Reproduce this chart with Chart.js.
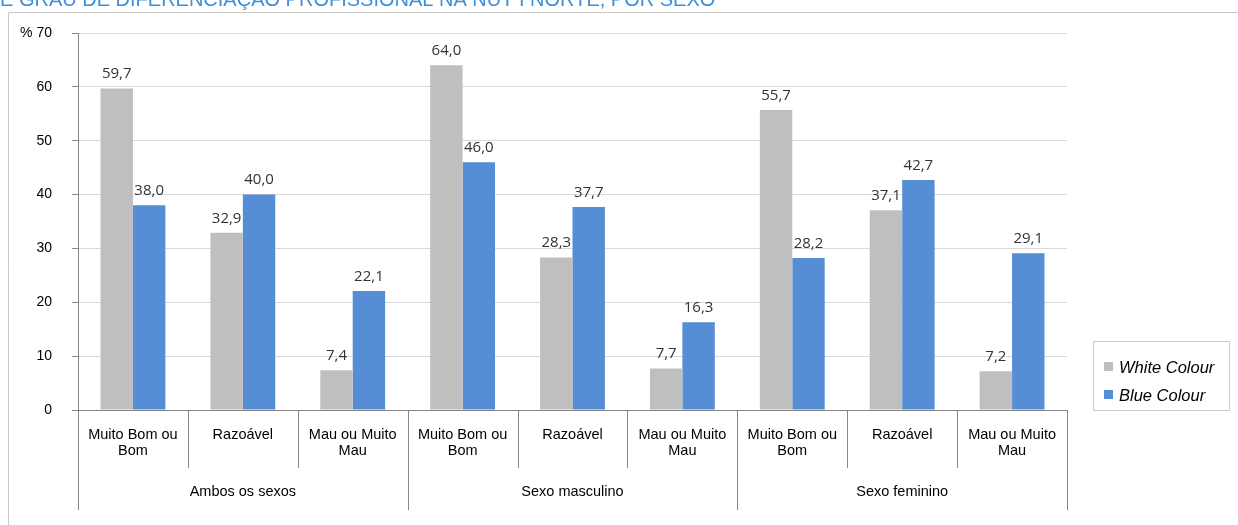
<!DOCTYPE html>
<html>
<head>
<meta charset="utf-8">
<script src="https://cdn.jsdelivr.net/npm/chart.js@4"></script>
<style>
  html, body { margin: 0; padding: 0; background: #fff; }
  #wrap { position: relative; width: 1238px; height: 525px; overflow: hidden; }
</style>
</head>
<body>
<div id="wrap"><canvas id="myChart" width="1238" height="525"></canvas></div>
<script>
var categories = ["Muito Bom ou Bom", "Razoável", "Mau ou Muito Mau",
                  "Muito Bom ou Bom", "Razoável", "Mau ou Muito Mau",
                  "Muito Bom ou Bom", "Razoável", "Mau ou Muito Mau"];
var catLines = [["Muito Bom ou", "Bom"], ["Razoável"], ["Mau ou Muito", "Mau"]];
var groups = ["Ambos os sexos", "Sexo masculino", "Sexo feminino"];
var whiteValues = [59.7, 32.9, 7.4, 64.0, 28.3, 7.7, 55.7, 37.1, 7.2];
var blueValues = [38.0, 40.0, 22.1, 46.0, 37.7, 16.3, 28.2, 42.7, 29.1];
var seriesNames = ["White Colour", "Blue Colour"];
var seriesColors = ["#bfbfbf", "#558ed5"];
var titleText = "E GRAU DE DIFERENCIAÇÃO PROFISSIONAL NA NUT I NORTE, POR SEXO";

var axisColor = "#868686";

// frame, title, labels, group axis, legend
var extras = {
  id: "extras",
  afterDatasetsDraw: function(chart) {
    var ctx = chart.ctx;
    ctx.save();
    ctx.font = "15px 'Open Sans'";
    ctx.fillStyle = "#333";
    ctx.textAlign = "center";
    ctx.textBaseline = "bottom";
    chart.data.datasets.forEach(function(ds, i) {
      var meta = chart.getDatasetMeta(i);
      meta.data.forEach(function(bar, j) {
        ctx.fillText(ds.data[j].toFixed(1).replace(".", ","), bar.x, bar.y - 7);
      });
    });
    ctx.restore();
  },
  afterDraw: function(chart) {
    var ctx = chart.ctx;
    var area = chart.chartArea;
    var x = chart.scales.x;
    ctx.save();

    // outer frame
    ctx.strokeStyle = "#c8c8c8";
    ctx.lineWidth = 1;
    ctx.beginPath();
    ctx.moveTo(8.5, 525);
    ctx.lineTo(8.5, 12.5);
    ctx.lineTo(1238, 12.5);
    ctx.stroke();

    // title (clipped at top)
    ctx.fillStyle = "#3f8fd8";
    ctx.font = "20px 'Liberation Sans'";
    ctx.textAlign = "left";
    ctx.textBaseline = "alphabetic";
    ctx.fillText(titleText, 0, 6);

    // % unit
    ctx.fillStyle = "#000";
    ctx.font = "14px 'Liberation Sans'";
    ctx.textBaseline = "middle";
    ctx.fillText("%", 20, area.top);

    // category boundaries and labels
    var n = categories.length;
    var step = (area.right - area.left) / n;
    ctx.strokeStyle = axisColor;
    ctx.beginPath();
    for (var k = 0; k <= n; k++) {
      var bx = Math.round(area.left + k * step) + 0.5;
      ctx.moveTo(bx, area.bottom);
      ctx.lineTo(bx, k % 3 === 0 ? 510 : 468);
    }
    ctx.stroke();

    ctx.font = "14.5px 'Liberation Sans'";
    ctx.textAlign = "center";
    ctx.fillStyle = "#000";
    for (var i = 0; i < n; i++) {
      var cx = x.getPixelForValue(i);
      var lines = catLines[i % 3];
      lines.forEach(function(t, li) {
        ctx.fillText(t, cx, 435 + li * 16);
      });
    }
    for (var g = 0; g < groups.length; g++) {
      var gx = area.left + (g * 3 + 1.5) * step;
      ctx.fillText(groups[g], gx, 492);
    }

    // legend
    ctx.strokeStyle = "#c8c8c8";
    ctx.strokeRect(1093.5, 341.5, 136, 69);
    ctx.font = "italic 16.5px 'Liberation Sans'";
    ctx.textAlign = "left";
    seriesNames.forEach(function(name, s) {
      var ly = 368 + s * 28;
      ctx.fillStyle = seriesColors[s];
      ctx.fillRect(1104, ly - 6, 9, 9);
      ctx.fillStyle = "#000";
      ctx.fillText(name, 1119, ly);
    });
    ctx.restore();
  }
};

var ctx = document.getElementById("myChart").getContext("2d");
var myChart = new Chart(ctx, {
  type: "bar",
  data: {
    labels: categories,
    datasets: [{
      label: seriesNames[0],
      backgroundColor: seriesColors[0],
      data: whiteValues
    }, {
      label: seriesNames[1],
      backgroundColor: seriesColors[1],
      data: blueValues
    }]
  },
  options: {
    responsive: false,
    animation: false,
    devicePixelRatio: 1,
    categoryPercentage: 0.59,
    barPercentage: 1,
    layout: { padding: { left: 0, top: 33, right: 171, bottom: 0 } },
    plugins: {
      legend: { display: false },
      title: { display: false },
      tooltip: { enabled: false }
    },
    scales: {
      x: {
        ticks: { display: false },
        grid: { display: false },
        border: { display: true, color: axisColor },
        afterFit: function(scale) { scale.height = 115; }
      },
      y: {
        min: 0,
        max: 70,
        ticks: {
          stepSize: 10,
          padding: 20,
          color: "#000",
          font: { family: "'Liberation Sans'", size: 14 }
        },
        grid: { color: "#d9d9d9", tickColor: axisColor, tickLength: 6 },
        border: { display: true, color: axisColor },
        afterFit: function(scale) { scale.width = 78; }
      }
    }
  },
  plugins: [extras]
});
</script>
</body>
</html>
